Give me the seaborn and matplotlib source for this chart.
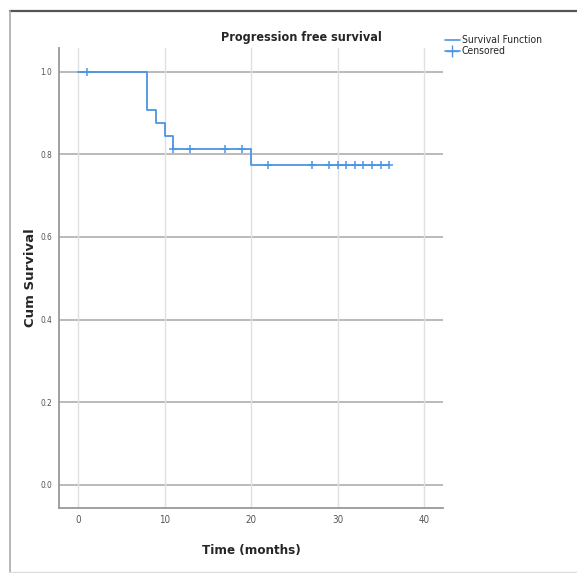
import numpy as np
import pandas as pd
import matplotlib
matplotlib.use('Agg')
import matplotlib.pyplot as plt
from matplotlib.lines import Line2D
import seaborn as sns

# Kaplan-Meier estimate (months, cumulative survival)
step_times = [0, 8, 9, 10, 11, 20, 36]
step_surv = [1.0, 0.906, 0.875, 0.844, 0.8125, 0.773, 0.773]

# censored observations (months)
censored_times = [1, 11, 13, 17, 19, 22, 27, 29, 30, 31, 32, 33, 34, 35, 36]

x_ticks = [0, 10, 20, 30, 40]
y_ticks = [0.0, 0.2, 0.4, 0.6, 0.8, 1.0]

sns.set_style('white')
plt.rcParams['font.family'] = ['DejaVu Sans']
plt.rcParams['font.stretch'] = 'condensed'

km = pd.DataFrame({'time': step_times, 'surv': step_surv})
# survival level at each censored time (value of the step function)
idx = np.searchsorted(step_times, censored_times, side='right') - 1
cens = pd.DataFrame({'time': censored_times, 'surv': np.array(step_surv)[idx]})

blue = '#4d94e6'

fig = plt.figure(figsize=(5.77, 5.73), dpi=100)
ax = fig.add_axes([0.1023, 0.1134, 0.6655, 0.8028])

# grid: darker horizontal, light vertical
for y in y_ticks:
    ax.axhline(y, color='#b4b4b4', lw=1.3, zorder=0)
for x in x_ticks:
    ax.axvline(x, color='#e0e0e0', lw=1.0, zorder=0)

sns.lineplot(data=km, x='time', y='surv', drawstyle='steps-post', estimator=None,
             color=blue, lw=1.3, ax=ax, legend=False)
sns.scatterplot(data=cens, x='time', y='surv', marker='+', s=40, color=blue,
                linewidth=1.1, ax=ax, legend=False, zorder=3)

ax.set_xlim(-2.2, 42.2)
ax.set_ylim(-0.056, 1.057)
ax.set_xticks(x_ticks)
ax.set_yticks(y_ticks)
ax.set_xticklabels([str(t) for t in x_ticks], fontsize=7, color='#555555')
ax.set_yticklabels([f'{t:.1f}' for t in y_ticks], fontsize=6, color='#555555')
ax.tick_params(length=0, pad=5)

for s in ['top', 'right']:
    ax.spines[s].set_visible(False)
for s in ['left', 'bottom']:
    ax.spines[s].set_color('#999999')
    ax.spines[s].set_linewidth(1.3)

ax.set_xlabel('Time (months)', fontsize=9.5, fontweight='bold', labelpad=14)
ax.set_ylabel('')
fig.text(30 / 577, 0.515, 'Cum Survival', rotation=90, ha='center', va='center',
         fontsize=9.5, fontweight='bold', fontstretch='normal')

fig.text(0.522, 0.935, 'Progression free survival', ha='center', va='center',
         fontsize=9, fontweight='bold')

handles = [Line2D([], [], color=blue, lw=1.2, drawstyle='steps-post'),
           Line2D([], [], color=blue, lw=1.2, marker='+', markersize=8)]
fig.legend(handles, ['Survival Function', 'Censored'], loc='upper left',
           bbox_to_anchor=(0.755, 0.955), frameon=False, fontsize=7.5,
           handlelength=1.4, handletextpad=0.2, labelspacing=0.1)

# outer frame of the exported picture
fig.add_artist(Line2D([0.017, 1.0], [0.981, 0.981], transform=fig.transFigure, color='#555555', lw=1.6))
fig.add_artist(Line2D([0.017, 0.017], [0.981, 0.002], transform=fig.transFigure, color='#aaaaaa', lw=1.2))
fig.add_artist(Line2D([0.017, 1.0], [0.002, 0.002], transform=fig.transFigure, color='#dddddd', lw=1.0))

fig.savefig('out.png', dpi=100)
